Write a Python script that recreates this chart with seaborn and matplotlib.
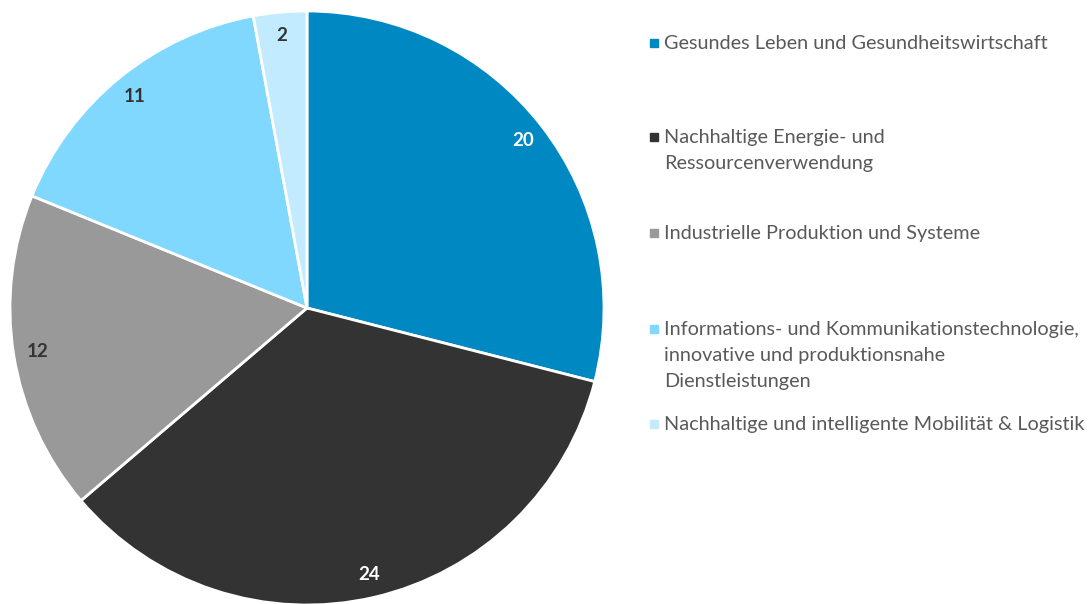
import matplotlib
matplotlib.use("Agg")
import matplotlib.pyplot as plt
import seaborn as sns
from matplotlib.patches import Rectangle

# data
categories = [
    "Gesundes Leben und Gesundheitswirtschaft",
    "Nachhaltige Energie- und\nRessourcenverwendung",
    "Industrielle Produktion und Systeme",
    "Informations- und Kommunikationstechnologie,\ninnovative und produktionsnahe\nDienstleistungen",
    "Nachhaltige und intelligente Mobilität & Logistik",
]
values = [20, 24, 12, 11, 2]
colors = ["#0088C2", "#333333", "#999999", "#80D8FF", "#C2EBFF"]
label_colors = ["white", "white", "#333333", "#333333", "#333333"]

sns.set_theme(style="white")
plt.rcParams["font.family"] = ["Lato", "DejaVu Sans"]

W, H = 1091, 604
fig = plt.figure(figsize=(W / 100, H / 100), dpi=100)
# pie axes placed in pixels: center (307, 308), radius 297
cx, cy, r = 307, 308, 297
ax = fig.add_axes([(cx - r) / W, (H - cy - r) / H, 2 * r / W, 2 * r / H])

wedges, texts, autotexts = ax.pie(
    values, colors=sns.color_palette(colors), startangle=90, counterclock=False,
    autopct=lambda p: f"{round(p * sum(values) / 100):d}", pctdistance=0.92,
    wedgeprops=dict(edgecolor="white", linewidth=2), radius=1,
)
for t, c in zip(autotexts, label_colors):
    t.set_color(c)
    t.set_fontsize(13.5)
    t.set_fontweight("bold")
ax.set_xlim(-1, 1)
ax.set_ylim(-1, 1)
ax.set_aspect("equal")
ax.axis("off")

# legend drawn by hand to keep the uneven spacing
legend_y = [43, 137, 233, 329, 424]
for lab, col, y in zip(categories, colors, legend_y):
    fig.patches.append(Rectangle((650 / W, (H - y - 4) / H), 8 / W, 8 / H,
                                 transform=fig.transFigure, color=col, figure=fig))
    for i, line in enumerate(lab.split("\n")):
        fig.text(664 / W, (H - y - 6 - 26 * i) / H, line, ha="left", va="baseline",
                 fontsize=14.3, color="#595959", transform=fig.transFigure)

fig.savefig("out.png", dpi=100)
